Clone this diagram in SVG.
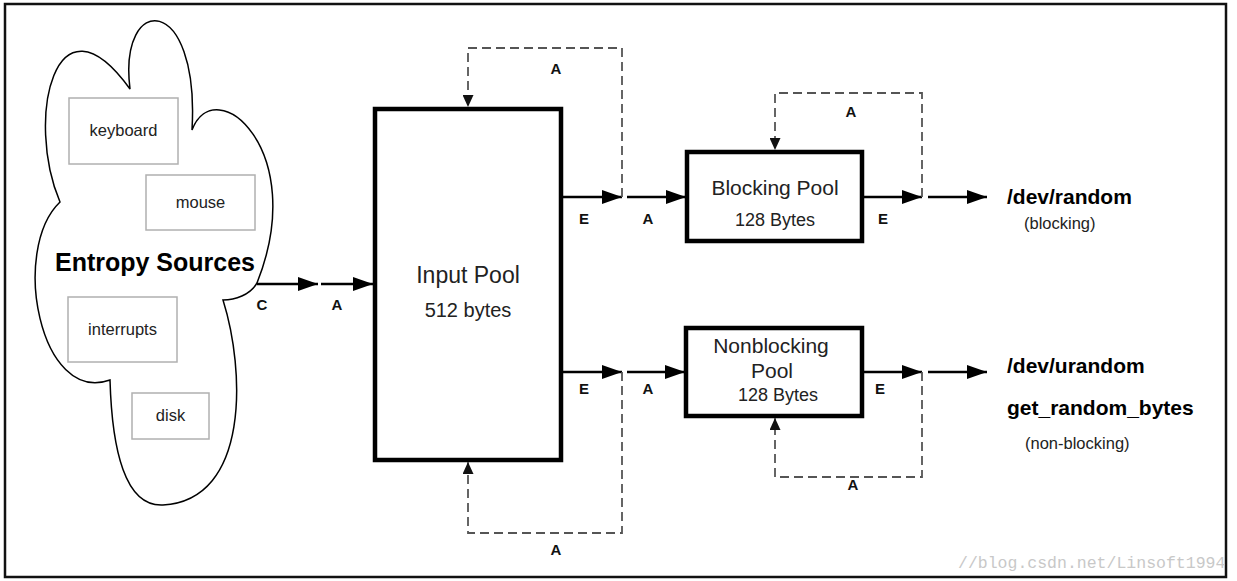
<svg xmlns="http://www.w3.org/2000/svg" width="1237" height="581" viewBox="0 0 1237 581">
<defs>
<marker id="ah" markerUnits="userSpaceOnUse" markerWidth="20" markerHeight="14" refX="20" refY="7" orient="auto"><path d="M0,0 L20,7 L0,14 z" fill="#000"/></marker>
<marker id="ahd" markerUnits="userSpaceOnUse" markerWidth="12" markerHeight="11" refX="12" refY="5.5" orient="auto"><path d="M0,0 L12,5.5 L0,11 z" fill="#111"/></marker>
<style>
.solid{fill:none;stroke:#000;stroke-width:2.5}
.dash{fill:none;stroke:#555;stroke-width:1.8;stroke-dasharray:9,5}
.pool{fill:#fff;stroke:#000;stroke-width:4.5}
.src{fill:#fff;stroke:#b0b0b0;stroke-width:1.5}
.t{font-family:"Liberation Sans",Arial,sans-serif;fill:#222;text-anchor:middle}
.lb{font-family:"Liberation Sans",Arial,sans-serif;font-weight:bold;font-size:15px;fill:#111;text-anchor:middle}
.out{font-family:"Liberation Sans",Arial,sans-serif;font-weight:bold;font-size:21px;fill:#000}
.sm{font-family:"Liberation Sans",Arial,sans-serif;font-size:16.5px;fill:#222}
</style>
</defs>
<rect x="0" y="0" width="1237" height="581" fill="#fff"/>
<rect x="5" y="4" width="1221" height="573" fill="none" stroke="#111" stroke-width="2.5"/>

<g id="entropy-sources">
<path d="M130,89 C118,-8 200,-8 192,130 C215,70 310,150 257,283 C250,295 235,300 223,300 C245,370 250,500 163,505 C125,507 112,450 110,380 C40,405 10,250 60,202 C25,120 55,-15 130,89 Z" fill="#fff" stroke="#000" stroke-width="1.5"/>
<text class="t" x="155" y="271" style="font-size:25px;font-weight:bold;fill:#000">Entropy Sources</text>
</g>
<g id="keyboard"><rect class="src" x="69" y="98" width="109" height="66"/><text class="t" x="123.5" y="136" font-size="16.5">keyboard</text></g>
<g id="mouse"><rect class="src" x="146" y="175" width="109" height="55"/><text class="t" x="200.5" y="208" font-size="16.5">mouse</text></g>
<g id="interrupts"><rect class="src" x="68" y="297" width="109" height="65"/><text class="t" x="122.5" y="335" font-size="16.5">interrupts</text></g>
<g id="disk"><rect class="src" x="132" y="393" width="77" height="46"/><text class="t" x="170.5" y="421" font-size="16.5">disk</text></g>

<g id="input-pool"><rect class="pool" x="375" y="109" width="186" height="351"/><text class="t" x="468" y="283" font-size="23">Input Pool</text><text class="t" x="468" y="317" font-size="20">512 bytes</text></g>
<g id="blocking-pool"><rect class="pool" x="687" y="152" width="175" height="89"/><text class="t" x="775" y="195" font-size="21">Blocking Pool</text><text class="t" x="775" y="226" font-size="18">128 Bytes</text></g>
<g id="nonblocking-pool"><rect class="pool" x="686" y="328" width="176" height="88"/><text class="t" x="771" y="353" font-size="21">Nonblocking</text><text class="t" x="772" y="378" font-size="21">Pool</text><text class="t" x="778" y="401" font-size="18">128 Bytes</text></g>

<g id="dev-random"><text class="out" x="1007" y="204">/dev/random</text><text class="sm" x="1024" y="229">(blocking)</text></g>
<g id="dev-urandom"><text class="out" x="1007" y="373">/dev/urandom</text><text class="out" x="1007" y="415">get_random_bytes</text><text class="sm" x="1025" y="449">(non-blocking)</text></g>

<g id="connectors">
<line class="solid" x1="257" y1="284" x2="318" y2="284" marker-end="url(#ah)"/>
<line class="solid" x1="321" y1="284" x2="373" y2="284" marker-end="url(#ah)"/>
<line class="solid" x1="561" y1="197" x2="622" y2="197" marker-end="url(#ah)"/>
<line class="solid" x1="627" y1="197" x2="686" y2="197" marker-end="url(#ah)"/>
<line class="solid" x1="561" y1="372" x2="622" y2="372" marker-end="url(#ah)"/>
<line class="solid" x1="627" y1="372" x2="685" y2="372" marker-end="url(#ah)"/>
<line class="solid" x1="862" y1="197" x2="922" y2="197" marker-end="url(#ah)"/>
<line class="solid" x1="928" y1="197" x2="987" y2="197" marker-end="url(#ah)"/>
<line class="solid" x1="862" y1="372" x2="922" y2="372" marker-end="url(#ah)"/>
<line class="solid" x1="928" y1="372" x2="987" y2="372" marker-end="url(#ah)"/>
<path class="dash" d="M622,197 V48 H468 V107" marker-end="url(#ahd)"/>
<path class="dash" d="M622,372 V533 H468 V462" marker-end="url(#ahd)"/>
<path class="dash" d="M922,197 V93 H775 V150" marker-end="url(#ahd)"/>
<path class="dash" d="M922,372 V477 H775 V418" marker-end="url(#ahd)"/>
<text class="lb" x="262" y="310">C</text>
<text class="lb" x="337" y="310">A</text>
<text class="lb" x="584" y="224">E</text>
<text class="lb" x="648" y="224">A</text>
<text class="lb" x="556" y="74">A</text>
<text class="lb" x="584" y="394">E</text>
<text class="lb" x="648" y="394">A</text>
<text class="lb" x="556" y="555">A</text>
<text class="lb" x="883" y="224">E</text>
<text class="lb" x="851" y="117">A</text>
<text class="lb" x="880" y="394">E</text>
<text class="lb" x="853" y="490">A</text>
</g>
<text x="958" y="568" font-family="Liberation Mono, monospace" font-size="16.5" fill="#c8c8c8">//blog.csdn.net/Linsoft1994</text>
</svg>
